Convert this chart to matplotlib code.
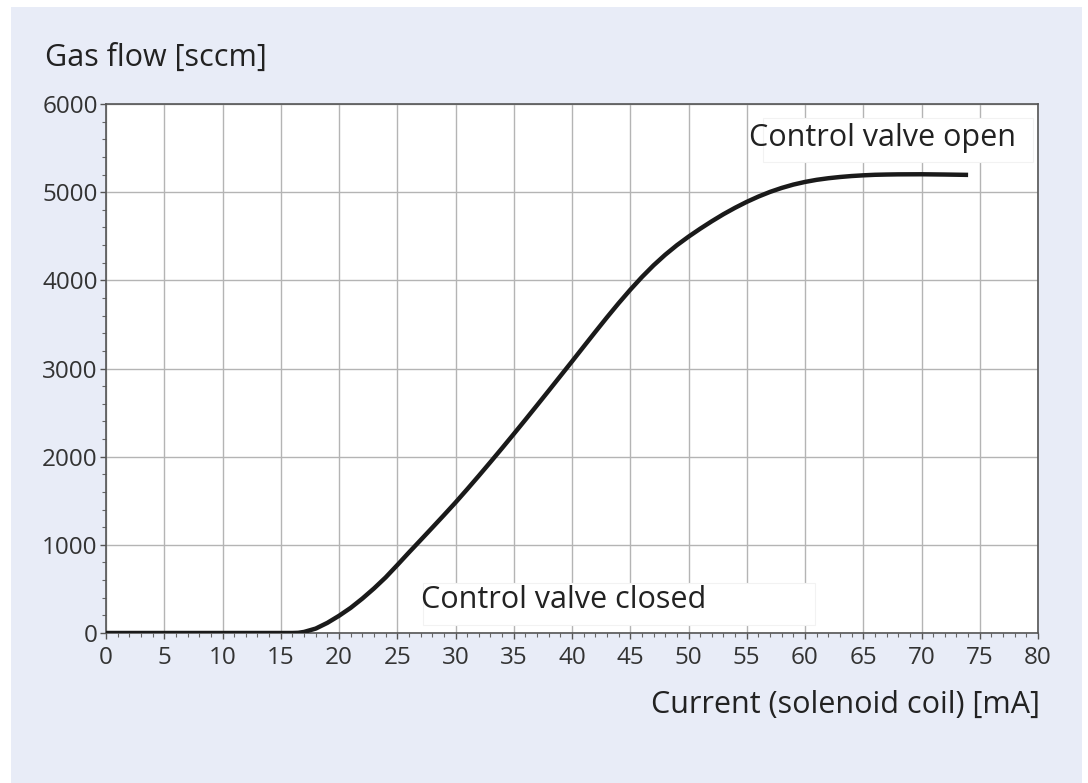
import matplotlib
matplotlib.use("Agg")
import matplotlib.pyplot as plt
from matplotlib.patches import Rectangle
from matplotlib.ticker import MultipleLocator

plt.rcParams['font.family'] = ['Open Sans', 'DejaVu Sans']

# Curve (mA, sccm)
current_ma = [0, 5, 10, 15, 16, 16.5, 17, 18, 19, 20, 21, 22, 23, 24, 25, 26, 27, 28, 29, 30,
              31, 32, 33, 34, 35, 36, 37, 38, 39, 40, 41, 42, 43, 44, 45, 46, 47, 48, 49,
              50, 51, 52, 53, 54, 55, 56, 57, 58, 59, 60, 61, 62, 63, 64, 65, 66, 67, 68,
              70, 72, 74]
gas_flow = [0, 0, 0, 0, 0, 2, 12, 50, 115, 195, 285, 390, 505, 630, 770, 913, 1053, 1194,
            1336, 1480, 1630, 1783, 1939, 2097, 2257, 2419, 2583, 2748, 2914, 3080, 3248,
            3415, 3580, 3740, 3893, 4037, 4170, 4290, 4398, 4495, 4585, 4670, 4750, 4823,
            4890, 4950, 5003, 5048, 5086, 5116, 5140, 5158, 5172, 5183, 5191, 5197, 5200,
            5202, 5203, 5200, 5196]

x_ticks = list(range(0, 81, 5))
y_ticks = list(range(0, 6001, 1000))

bg = '#e8ecf7'
txt = '#222222'

fig = plt.figure(figsize=(10.88, 7.83), dpi=100, facecolor='white')
fig.patches.append(Rectangle((11 / 1088, 0), (1082 - 11) / 1088, 1 - 7 / 783,
                             transform=fig.transFigure, facecolor=bg, edgecolor='none', zorder=-10))
ax = fig.add_axes([106 / 1088, 1 - 633 / 783, (1038 - 106) / 1088, (633 - 104) / 783])
ax.set_facecolor('white')

ax.set_xlim(0, 80)
ax.set_ylim(0, 6000)
ax.set_xticks(x_ticks)
ax.set_yticks(y_ticks)
ax.xaxis.set_minor_locator(MultipleLocator(1))
ax.yaxis.set_minor_locator(MultipleLocator(200))
ax.grid(True, which='major', color='#b4b4b4', linewidth=1.0)
ax.set_axisbelow(True)

for s in ax.spines.values():
    s.set_color('#555555')
    s.set_linewidth(1.2)
ax.tick_params(which='major', direction='out', length=4.5, width=1.0, color='#555555',
               labelsize=17.5, labelcolor='#333333', pad=1.5)
ax.tick_params(axis='x', which='major', pad=5)
ax.tick_params(which='minor', direction='out', length=3, width=0.8, color='#666666')

ax.plot(current_ma, gas_flow, color='#1a1a1a', linewidth=3.2, solid_capstyle='butt',
        solid_joinstyle='round', zorder=5)

# label boxes
ax.add_patch(Rectangle((56.4, 5340), 23.2, 500, facecolor='white', edgecolor='#f2f2f2',
                       linewidth=0.8, zorder=2))
ax.text(55.2, 5610, 'Control valve open', fontsize=22, color=txt, va='center', ha='left', zorder=3)
ax.add_patch(Rectangle((27.2, 90), 33.7, 477, facecolor='white', edgecolor='#f2f2f2',
                       linewidth=0.8, zorder=2))
ax.text(27.06, 374, 'Control valve closed', fontsize=22, color=txt, va='center', ha='left', zorder=3)

fig.text(45 / 1088, 1 - 58 / 783, 'Gas flow [sccm]', fontsize=22, color=txt, ha='left', va='center')
fig.text(1040 / 1088, 1 - 705 / 783, 'Current (solenoid coil) [mA]', fontsize=22, color=txt,
         ha='right', va='center')

fig.savefig('out.png', dpi=100, facecolor=fig.get_facecolor())
